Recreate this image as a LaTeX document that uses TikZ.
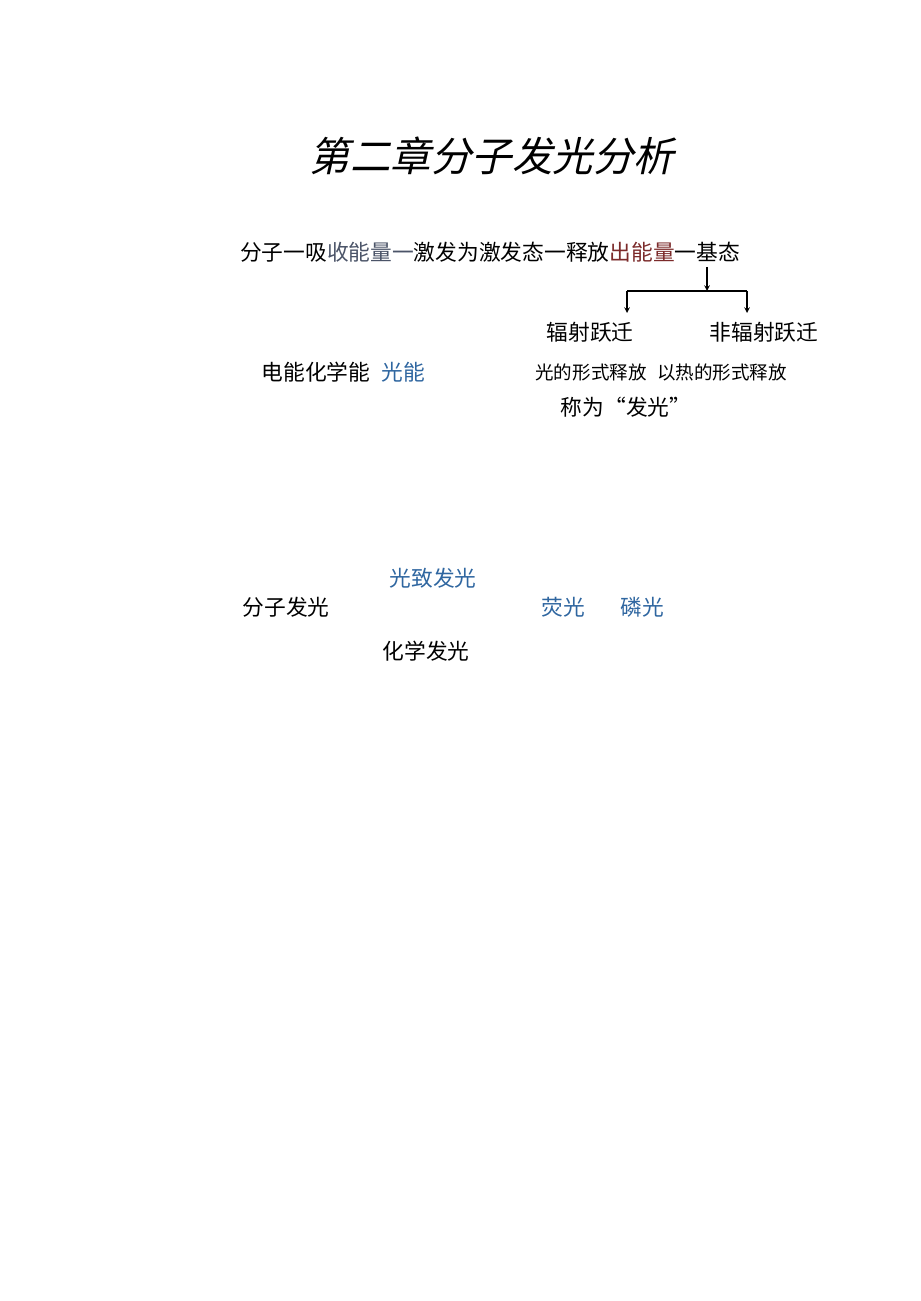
\documentclass[tikz,border=0pt]{standalone}
\usepackage{fontspec}
\usepackage{tikz}
\usetikzlibrary{arrows}
\setmainfont{Noto Sans CJK SC}
\newfontfamily\cjkslant[FakeSlant=0.22]{Noto Sans CJK SC}
\definecolor{ea_gray}{RGB}{75, 84, 104}
\definecolor{ea_red}{RGB}{123, 42, 42}
\definecolor{lum_blue}{RGB}{47, 102, 160}
\tikzstyle{title}=[inner sep=0pt,font=\cjkslant\fontsize{30.4}{32}\selectfont]
\tikzstyle{txt}=[inner sep=0pt,font=\fontsize{16.3}{18}\selectfont]
\tikzstyle{small}=[inner sep=0pt,font=\fontsize{13.9}{16}\selectfont]
\tikzstyle{bl}=[txt,text=lum_blue]
\tikzstyle{none}=[]

\begin{document}
\begin{tikzpicture}[x=0.75pt,y=-0.75pt,>=stealth,line width=0.9pt]
            \useasboundingbox (0,0) rectangle (920,1301);
            \node [style=title] (0) at (492, 156) {第二章分子发光分析};
            \node [style=txt] (1) at (490, 252) {分子一吸\textcolor{ea_gray}{收能量一}激发为激发态一释放\textcolor{ea_red}{出能量}一基态};
            \coordinate (2) at (707, 267);
            \coordinate (3) at (707, 291);
            \coordinate (4) at (627, 291);
            \coordinate (5) at (747, 291);
            \coordinate (6) at (627, 313);
            \coordinate (7) at (747, 313);
            \node [style=txt] (8) at (590, 332) {辐射跃迁};
            \node [style=txt] (9) at (764, 332) {非辐射跃迁};
            \node [style=txt] (10) at (316, 372) {电能化学能};
            \node [style=bl] (11) at (403, 372) {光能};
            \node [style=small] (12) at (591, 372) {光的形式释放};
            \node [style=small] (13) at (722, 372) {以热的形式释放};
            \node [style=txt] (14) at (626, 407) {称为“发光”};
            \node [style=bl] (15) at (433, 578) {光致发光};
            \node [style=txt] (16) at (286, 607) {分子发光};
            \node [style=bl] (17) at (563, 607) {荧光};
            \node [style=bl] (18) at (642, 607) {磷光};
            \node [style=txt] (19) at (426, 651) {化学发光};
            \draw [->] (2) to (3);
            \draw (4) to (5);
            \draw [->] (4) to (6);
            \draw [->] (5) to (7);
    \end{tikzpicture}
\end{document}
